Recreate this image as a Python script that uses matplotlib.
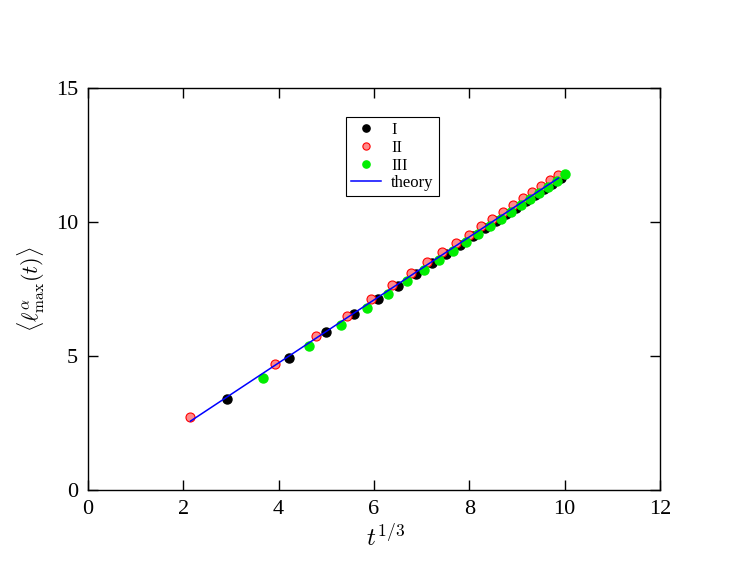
import matplotlib
matplotlib.use('Agg')
import matplotlib.pyplot as plt

# ------------ DATA (x = t^{1/3}) -------------- #
x_I = [2.92, 4.22, 5.00, 5.59, 6.08, 6.50, 6.88, 7.21, 7.52, 7.80,
       8.07, 8.32, 8.55, 8.77, 8.98, 9.19, 9.38, 9.57, 9.74, 9.92]
y_I = [3.38, 4.93, 5.88, 6.55, 7.13, 7.62, 8.06, 8.46, 8.82, 9.15,
       9.46, 9.76, 10.03, 10.29, 10.54, 10.78, 11.01, 11.22, 11.43, 11.63]

x_II = [2.15, 3.92, 4.79, 5.43, 5.94, 6.38, 6.77, 7.11, 7.43, 7.72,
        7.99, 8.24, 8.48, 8.71, 8.92, 9.13, 9.32, 9.51, 9.69, 9.87]
y_II = [2.72, 4.72, 5.76, 6.51, 7.11, 7.65, 8.11, 8.52, 8.89, 9.23,
        9.52, 9.84, 10.13, 10.39, 10.65, 10.89, 11.12, 11.34, 11.55, 11.75]

x_III = [3.68, 4.64, 5.31, 5.85, 6.30, 6.69, 7.05, 7.37, 7.66, 7.94,
         8.19, 8.43, 8.66, 8.88, 9.09, 9.28, 9.47, 9.66, 9.83, 10.00]
y_III = [4.18, 5.37, 6.16, 6.79, 7.32, 7.78, 8.20, 8.58, 8.93, 9.25,
         9.56, 9.85, 10.12, 10.38, 10.63, 10.86, 11.09, 11.31, 11.52, 11.78]

x_theory = [2.15, 9.87]
y_theory = [2.57, 11.64]

# ----------- PLOT -----------------#
plt.rcParams['font.family'] = ['Liberation Serif', 'DejaVu Serif']
plt.rcParams['mathtext.fontset'] = 'cm'

fig = plt.figure(figsize=(7.47, 5.78), dpi=100)
ax = fig.add_axes([88/747, 1 - 490/578, 572/747, 402/578])

ax.plot(x_I, y_I, 'o', color='black', ms=6.5, mec='black', label='I')
ax.plot(x_II, y_II, 'o', color='#ff8a8a', ms=6.5, mec='red', mew=0.8, label='II')
ax.plot(x_III, y_III, 'o', color='#00ee00', ms=6.5, mec='#00ee00', label='III')
ax.plot(x_theory, y_theory, '-', color='blue', lw=1.1, label='theory')

ax.set_xlim(0, 12)
ax.set_ylim(0, 15)
ax.set_xticks([0, 2, 4, 6, 8, 10, 12])
ax.set_yticks([0, 5, 10, 15])
ax.tick_params(direction='in', length=7, width=1, labelsize=16,
               top=True, right=True, pad=7)
for sp in ax.spines.values():
    sp.set_linewidth(1)

ax.set_xlabel(r'$t^{1/3}$', fontsize=18, labelpad=4)
ax.xaxis.set_label_coords(0.52, -0.085)
ax.set_ylabel(r'$\langle \ell^{\alpha}_{\max}(t) \rangle$', fontsize=16)
ax.yaxis.set_label_coords(-0.072, 0.5)

leg = ax.legend(loc='upper left', bbox_to_anchor=(0.437, 0.948), fontsize=12,
                frameon=True, fancybox=False, edgecolor='black', framealpha=1,
                handlelength=1.8, handletextpad=0.6, borderpad=0.3,
                labelspacing=0.1, numpoints=1, markerscale=0.8)
leg.get_frame().set_linewidth(0.8)

plt.savefig('out.png', dpi=100)
